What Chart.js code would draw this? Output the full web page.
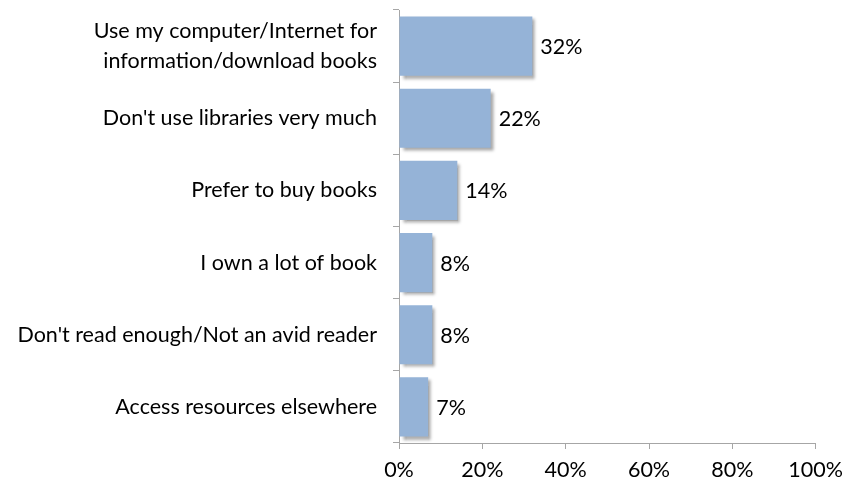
<!DOCTYPE html>
<html>
<head>
<meta charset="utf-8">
<script src="https://cdn.jsdelivr.net/npm/chart.js@4"></script>
<style>
html,body{margin:0;padding:0;background:#fff;}
#wrap{width:851px;height:484px;}
</style>
</head>
<body>
<div id="wrap"><canvas id="c" width="851" height="484"></canvas></div>
<script>
const categories = [
  ["Use my computer/Internet for", "information/download books"],
  "Don't use libraries very much",
  "Prefer to buy books",
  "I own a lot of book",
  "Don't read enough/Not an avid reader",
  "Access resources elsewhere"
];
const values = [32, 22, 14, 8, 8, 7];
const xTicks = [0, 20, 40, 60, 80, 100];

const FONT = "Lato, Carlito, 'Open Sans', sans-serif";
const FSIZE = 21.5;

const shadowPlugin = {
  id: 'shadow',
  beforeDatasetsDraw(chart) {
    const ctx = chart.ctx;
    ctx.save();
    ctx.shadowColor = 'rgba(0,0,0,0.35)';
    ctx.shadowBlur = 3;
    ctx.shadowOffsetX = 3;
    ctx.shadowOffsetY = 3;
  },
  afterDatasetsDraw(chart) {
    chart.ctx.restore();
    const ctx = chart.ctx;
    const meta = chart.getDatasetMeta(0);
    ctx.save();
    ctx.font = FSIZE + "px " + FONT;
    ctx.fillStyle = '#000';
    ctx.textAlign = 'left';
    ctx.textBaseline = 'middle';
    meta.data.forEach((bar, i) => {
      ctx.fillText(values[i] + '%', bar.x + 8, bar.y + 1);
    });
    ctx.restore();
  }
};

new Chart(document.getElementById('c'), {
  type: 'bar',
  data: {
    labels: categories,
    datasets: [{
      data: values,
      backgroundColor: '#95B3D7',
      borderWidth: 0,
      barPercentage: 0.82,
      categoryPercentage: 1.0
    }]
  },
  options: {
    indexAxis: 'y',
    responsive: false,
    animation: false,
    devicePixelRatio: 1,
    layout: { padding: { top: 10, right: 4, bottom: 1, left: 0 } },
    plugins: { legend: { display: false }, tooltip: { enabled: false } },
    scales: {
      x: {
        min: 0, max: 100,
        afterBuildTicks(scale) { scale.ticks = xTicks.map(v => ({ value: v })); },
        afterFit(scale) { scale.height = 40; },
        ticks: {
          callback: v => v + '%',
          font: { size: FSIZE, family: FONT },
          color: '#000',
          padding: 8,
          maxRotation: 0
        },
        grid: { drawOnChartArea: false, drawTicks: true, tickLength: 6, color: '#A6A6A6' },
        border: { color: '#A6A6A6' }
      },
      y: {
        afterFit(scale) { scale.width = 399; scale.paddingTop = 0; scale.paddingBottom = 0; },
        ticks: {
          font: { size: FSIZE, family: FONT, lineHeight: 1.4 },
          color: '#000',
          padding: 16,
          crossAlign: 'near'
        },
        grid: { offset: true, drawOnChartArea: false, drawTicks: true, tickLength: 6, color: '#A6A6A6' },
        border: { color: '#A6A6A6' }
      }
    }
  },
  plugins: [shadowPlugin]
});
</script>
</body>
</html>
